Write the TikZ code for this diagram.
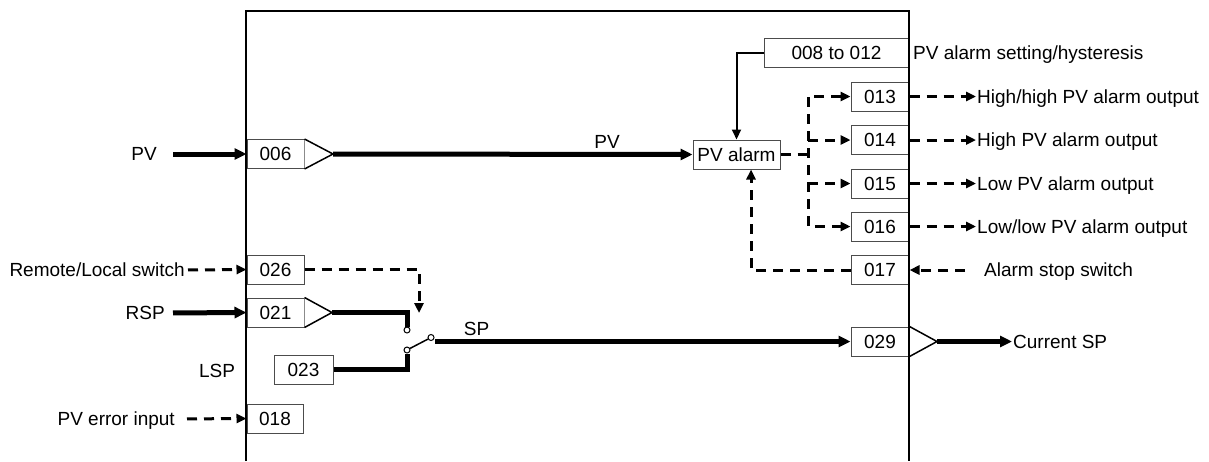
\documentclass[tikz,border=0pt]{standalone}
\usepackage{fontspec}
\setmainfont{Liberation Sans}
\usetikzlibrary{arrows.meta}
\begin{document}
\begin{tikzpicture}[x=1pt,y=-1pt,
  font=\fontsize{19}{22}\selectfont,
  box/.style={draw=black!70, line width=1pt, fill=white, inner sep=0pt,
    minimum width=57pt, minimum height=29pt, text height=13.6pt, text depth=0pt},
  lab/.style={inner sep=0pt, text height=13.6pt, text depth=0pt},
  thickln/.style={line width=5pt, -{Triangle[length=12pt,width=11pt]}},
  thickplain/.style={line width=5pt},
  dashln/.style={line width=3pt, dash pattern=on 10pt off 7pt},
  dtip/.style={-{Triangle[length=10pt,width=9pt]}},
  dboth/.style={{Triangle[length=10pt,width=9pt]}-{Triangle[length=10pt,width=9pt]}},
  tri/.style={line width=1.5pt, fill=white, line join=miter},
  contact/.style={circle, draw, line width=1pt, fill=white, inner sep=0pt, minimum size=6pt}]
\useasboundingbox (0,0) rectangle (1209,461);

% boxes
\node[box] (b006) at (275.5,154) {006};
\node[box] (b026) at (275.5,269.5) {026};
\node[box] (b021) at (275.5,312.5) {021};
\node[box, minimum width=59pt] (b023) at (303.5,369.5) {023};
\node[box, minimum width=56pt] (b018) at (275,418.5) {018};
\node[box, minimum width=145pt] (b008) at (836.5,53) {008 to 012};
\node[box, minimum width=58pt] (b013) at (880,96.5) {013};
\node[box, minimum width=58pt] (b014) at (880,140) {014};
\node[box, minimum width=58pt] (b015) at (880,183.5) {015};
\node[box, minimum width=58pt] (b016) at (880,226.5) {016};
\node[box, minimum width=58pt] (b017) at (880,270) {017};
\node[box, minimum width=58pt] (b029) at (880,341.5) {029};
\node[box, minimum width=87pt] (pva) at (736.5,154.5) {PV alarm};

% triangles
\coordinate (t006) at (333,154);
\coordinate (t021) at (332,312.5);
\coordinate (t029) at (937,341.5);
\draw[tri] (b006.north east) -- (t006) -- (b006.south east);
\draw[tri] (b021.north east) -- (t021) -- (b021.south east);
\draw[tri] (b029.north east) -- (t029) -- (b029.south east);

% labels
\node[lab, anchor=east] (lPV) at (157,154) {PV};
\node[lab, anchor=east] (lRL) at (185,270) {Remote/Local switch};
\node[lab, anchor=east] (lRSP) at (165,313) {RSP};
\node[lab] (lLSP) at (217,371) {LSP};
\node[lab, anchor=east] (lPE) at (175,419) {PV error input};
\node[lab] (lPVm) at (607,141.5) {PV};
\node[lab] (lSP) at (476.5,328.5) {SP};
\node[lab, anchor=west] (lCSP) at (1013,341.5) {Current SP};
\node[lab, anchor=west] (lSet) at (913,53) {PV alarm setting/hysteresis};
\node[lab, anchor=west] (o13) at (977,96.5) {High/high PV alarm output};
\node[lab, anchor=west] (o14) at (977,140) {High PV alarm output};
\node[lab, anchor=west] (o15) at (977,183.5) {Low PV alarm output};
\node[lab, anchor=west] (o16) at (977,226.5) {Low/low PV alarm output};
\node[lab, anchor=west] (lAS) at (984,270) {Alarm stop switch};

% inputs
\draw[thickln, shorten <=16pt] (lPV.east) -- (b006.west);
\draw[thickln, shorten <=8pt] (lRSP.east) -- (b021.west);
\draw[dashln, dtip, shorten <=3pt] (lRL.east) -- (b026.west);
\draw[dashln, dtip, shorten <=12pt] (lPE.east) -- (b018.west);

% PV main
\draw[thickln] (t006) -- (pva.west);

% switch
\node[contact] (c1) at (407,330) {};
\node[contact] (c2) at (407,350) {};
\node[contact] (c3) at (431,337.5) {};
\coordinate (swc) at (419,313);
\draw[dashln, dtip] (b026.east) -| (swc);
\draw[thickplain] (t021) -| (c1.north);
\draw[thickplain] (b023.east) -| (c2.south);
\draw[line width=1.5pt] (c2) -- (c3);
\draw[thickln] (c3.east |- b029.west) -- (b029.west);
\draw[thickln, shorten >=1pt] (t029) -- (lCSP.west);

% PV alarm settings
\draw[line width=2pt, -{Triangle[length=10pt,width=9pt]}] (b008.west) -| (pva.north);

% alarm outputs
\coordinate (bus) at (808,154.5);
\draw[dashln] (pva.east) -- (bus);
\draw[dashln, dboth] (b013.west) -| (bus) |- (b016.west);
\draw[dashln, dtip] (bus |- b014.west) -- (b014.west);
\draw[dashln, dtip] (bus |- b015.west) -- (b015.west);
\draw[dashln, dtip, shorten >=1pt] (b013.east) -- (o13.west);
\draw[dashln, dtip, shorten >=1pt] (b014.east) -- (o14.west);
\draw[dashln, dtip, shorten >=1pt] (b015.east) -- (o15.west);
\draw[dashln, dtip, shorten >=1pt] (b016.east) -- (o16.west);

% alarm stop
\draw[dashln, dtip, shorten <=19pt] (lAS.west) -- (b017.east);
\draw[dashln, dtip] (b017.west) -| ([xshift=14.5pt]pva.south);

% frame
\draw[line width=2pt] (246,461) -- (246,11) -- (909,11) -- (909,461);
\end{tikzpicture}
\end{document}
